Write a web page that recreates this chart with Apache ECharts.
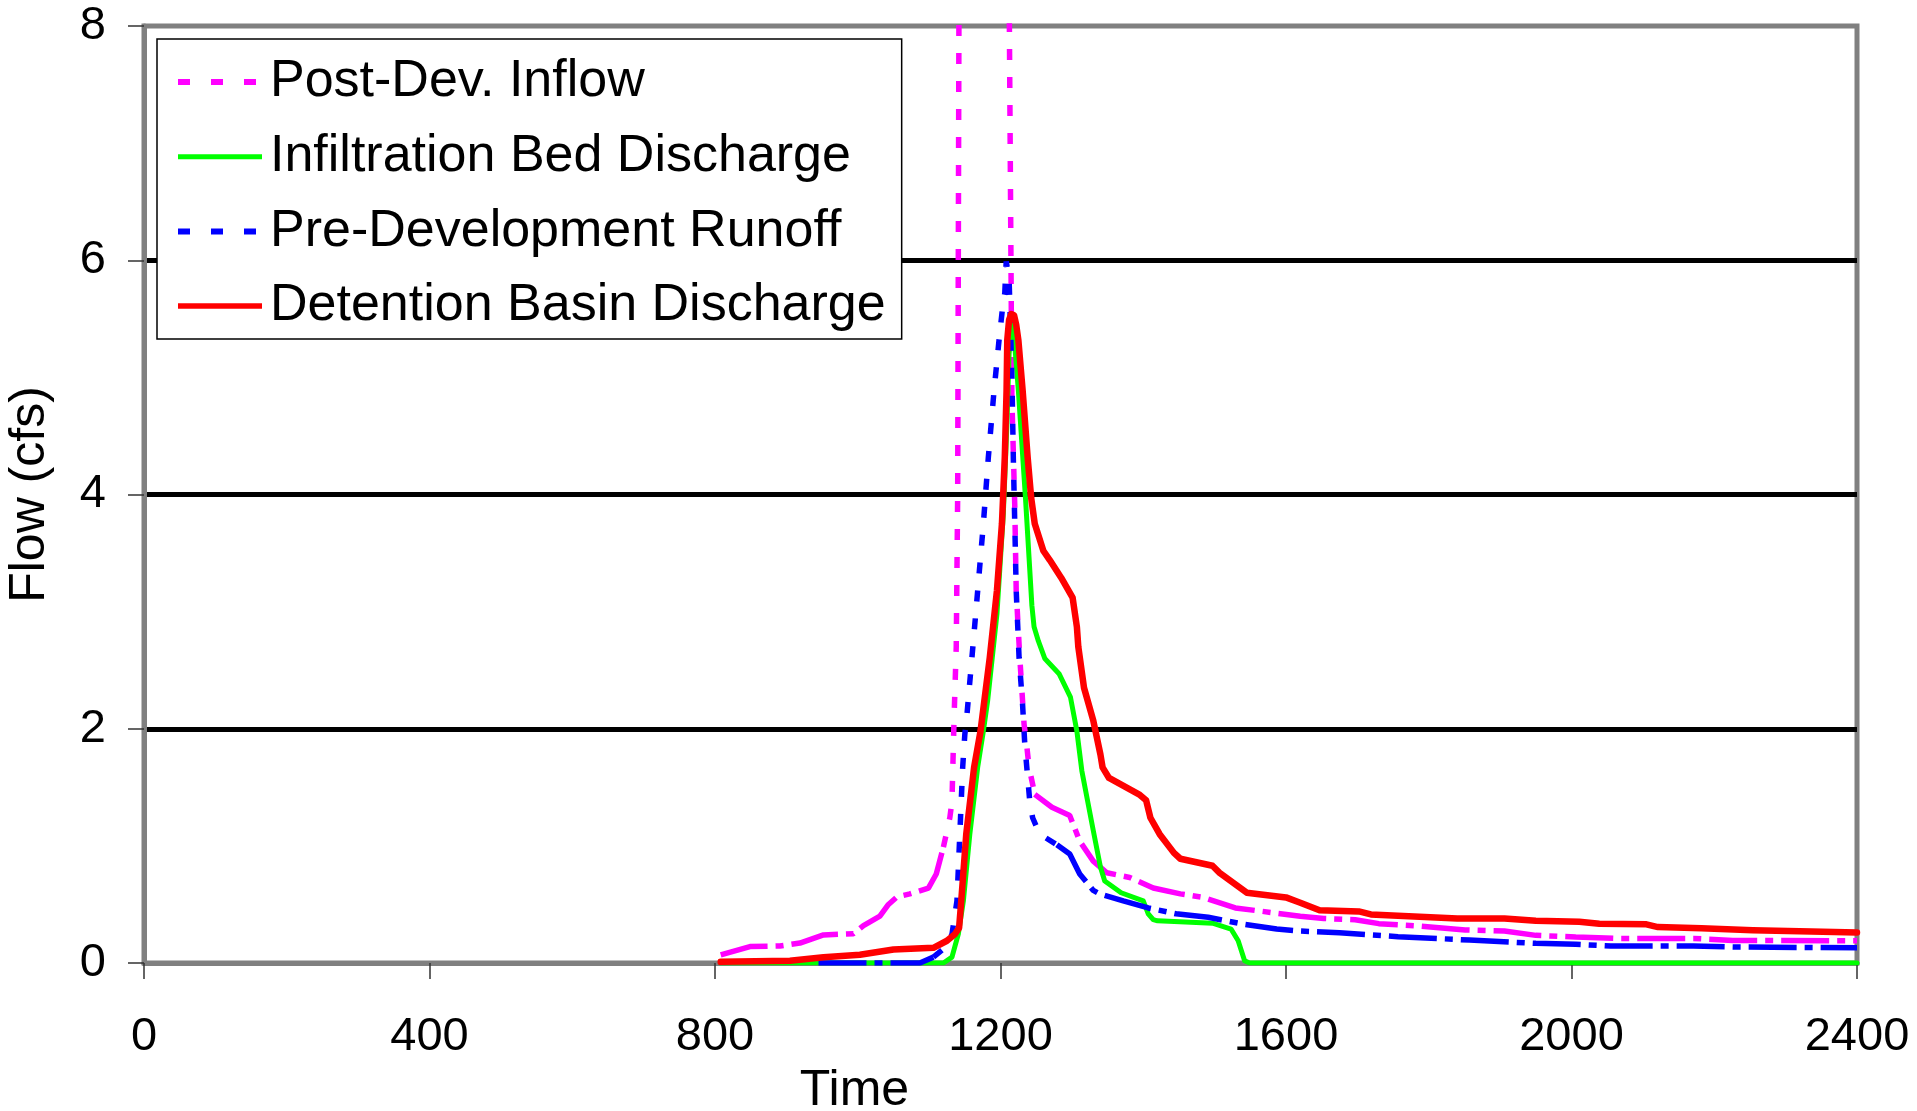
<!DOCTYPE html>
<html>
<head>
<meta charset="utf-8">
<title>Flow (cfs) vs Time</title>
<script src="https://cdn.jsdelivr.net/npm/echarts@6/dist/echarts.min.js"></script>
<style>
  html, body { margin: 0; padding: 0; background: #fff; }
  #chart { width: 1917px; height: 1111px; }
</style>
</head>
<body>
<div id="chart"></div>
<script>
// Axis ticks
const timeTicks = [0, 400, 800, 1200, 1600, 2000, 2400];
const flowTicks = [0, 2, 4, 6, 8];

// Hydrographs: [time, flow (cfs)]
const postDevInflow = [
  [808, 0.07], [849, 0.14], [891, 0.145], [919, 0.17], [952, 0.24], [994, 0.25],
  [1008, 0.32], [1031, 0.40], [1043, 0.50], [1055, 0.565], [1073, 0.59], [1099, 0.64],
  [1110, 0.76], [1120, 0.99], [1129, 1.24], [1132, 1.38], [1135, 2.1], [1138, 2.7],
  [1140, 4.0], [1142, 8.6], [1147, 14.0], [1180, 15.5], [1207, 13.0], [1212, 8.4],
  [1216, 4.8], [1220, 3.9], [1222, 3.18], [1227, 2.61], [1233, 2.04], [1236, 1.9],
  [1240, 1.67], [1248, 1.44], [1272, 1.33], [1297, 1.26], [1311, 1.04], [1330, 0.87],
  [1349, 0.77], [1381, 0.73], [1414, 0.64], [1452, 0.59], [1484, 0.56], [1529, 0.47],
  [1581, 0.43], [1620, 0.40], [1653, 0.38], [1697, 0.37], [1730, 0.336], [1785, 0.316],
  [1851, 0.282], [1906, 0.273], [1950, 0.236], [2006, 0.222], [2061, 0.21],
  [2171, 0.21], [2226, 0.193], [2400, 0.19]
];

const infiltrationBed = [
  [808, 0], [1120, 0], [1132, 0.05], [1141, 0.25], [1148, 0.53], [1157, 1.10],
  [1168, 1.67], [1176, 1.98], [1182, 2.24], [1195, 2.98], [1204, 3.84], [1209, 4.6],
  [1212, 5.2], [1216, 5.47], [1219, 5.35], [1225, 4.89], [1235, 3.97], [1240, 3.46],
  [1244, 3.05], [1247, 2.87], [1253, 2.75], [1262, 2.60], [1282, 2.47], [1298, 2.27],
  [1307, 1.98], [1314, 1.64], [1330, 1.13], [1340, 0.82], [1346, 0.70], [1369, 0.60],
  [1400, 0.53], [1407, 0.42], [1414, 0.37], [1420, 0.36], [1459, 0.35], [1497, 0.34],
  [1523, 0.29], [1533, 0.19], [1542, 0.02], [1549, 0], [2400, 0]
];

const preDevRunoff = [
  [945, 0], [1087, 0], [1106, 0.05], [1122, 0.13], [1132, 0.245], [1139, 0.53],
  [1143, 1.10], [1147, 1.67], [1150, 1.95], [1153, 2.12], [1164, 2.89], [1176, 3.75],
  [1183, 4.32], [1191, 4.89], [1198, 5.32], [1203, 5.6], [1206, 5.72], [1208, 5.99],
  [1212, 5.85], [1216, 5.0], [1218, 4.3], [1220, 3.75], [1222, 3.18], [1226, 2.61],
  [1231, 2.2], [1234, 1.87], [1241, 1.38], [1245, 1.24], [1255, 1.10], [1279, 1.01],
  [1297, 0.93], [1311, 0.76], [1330, 0.62], [1339, 0.59], [1372, 0.53], [1407, 0.47],
  [1446, 0.42], [1491, 0.39], [1542, 0.33], [1587, 0.29], [1620, 0.273], [1675, 0.259],
  [1757, 0.225], [1857, 0.196], [1950, 0.168], [2006, 0.16], [2055, 0.145],
  [2171, 0.145], [2226, 0.137], [2400, 0.13]
];

const detentionBasin = [
  [808, 0.01], [905, 0.02], [952, 0.05], [1003, 0.07], [1050, 0.115], [1106, 0.13],
  [1125, 0.19], [1136, 0.245], [1142, 0.30], [1145, 0.53], [1152, 1.10], [1163, 1.67],
  [1172, 1.98], [1185, 2.61], [1195, 3.18], [1202, 3.75], [1206, 4.32], [1208.5, 4.89],
  [1209.5, 5.32], [1212, 5.49], [1215, 5.54], [1219, 5.53], [1222, 5.45], [1225, 5.32],
  [1231, 4.89], [1238, 4.32], [1243, 3.97], [1248, 3.75], [1260, 3.52], [1269, 3.44],
  [1285, 3.29], [1301, 3.12], [1307, 2.87], [1309, 2.70], [1317, 2.35], [1330, 2.07],
  [1340, 1.78], [1343, 1.67], [1352, 1.58], [1394, 1.44], [1404, 1.39], [1410, 1.24],
  [1423, 1.10], [1443, 0.94], [1452, 0.89], [1497, 0.83], [1507, 0.77], [1545, 0.60],
  [1600, 0.56], [1620, 0.515], [1647, 0.45], [1702, 0.44], [1719, 0.415], [1840, 0.38],
  [1906, 0.38], [1950, 0.36], [2011, 0.353], [2039, 0.336], [2105, 0.33], [2121, 0.307],
  [2182, 0.296], [2254, 0.279], [2336, 0.268], [2400, 0.26]
];

const seriesNames = [
  'Post-Dev. Inflow',
  'Infiltration Bed Discharge',
  'Pre-Development Runoff',
  'Detention Basin Discharge'
];

const FONT = "'Liberation Sans', Arial, Helvetica, sans-serif";
const MAGENTA = '#ff00ff';
const GREEN = '#00ff00';
const BLUE = '#0000ff';
const RED = '#ff0000';
const DOTS = [11, 17];
const DASH_DOT = [48, 8, 8, 8];

// Keep the points whose time lies inside [from, to]
function span(data, from, to) {
  return data.filter(p => p[0] >= from && p[0] <= to);
}

// Dashed hydrograph drawn in three pieces: shallow rise (dash-dot),
// steep spike (dots), recession (dash-dot). Pieces share the series name.
function dashedHydrograph(name, data, color, spikeFrom, spikeTo) {
  const base = {
    name, type: 'line', symbol: 'none', silent: true, clip: true,
    itemStyle: { color },
    lineStyle: { color, width: 5.5, cap: 'butt' }
  };
  return [
    Object.assign({}, base, { data: span(data, -Infinity, spikeFrom),
      lineStyle: Object.assign({}, base.lineStyle, { type: DASH_DOT }) }),
    Object.assign({}, base, { data: span(data, spikeFrom, spikeTo),
      lineStyle: Object.assign({}, base.lineStyle, { type: DOTS }) }),
    Object.assign({}, base, { data: span(data, spikeTo, Infinity),
      lineStyle: Object.assign({}, base.lineStyle, { type: DASH_DOT }) })
  ];
}

function solidHydrograph(name, data, color, width) {
  return {
    name, type: 'line', symbol: 'none', silent: true, clip: true, data,
    itemStyle: { color },
    lineStyle: { color, width, type: 'solid', cap: 'round', join: 'round' }
  };
}

// Legend entry: line icon only, no marker
function legendEntry(name, color, width, type) {
  return {
    name,
    itemStyle: { color, opacity: 0, borderWidth: 0 },
    lineStyle: { color, width, type, cap: 'butt', opacity: 1 }
  };
}

const chart = echarts.init(document.getElementById('chart'), null, { renderer: 'canvas' });

chart.setOption({
  animation: false,
  backgroundColor: '#ffffff',
  textStyle: { fontFamily: FONT, color: '#000' },
  grid: {
    left: 144, right: 60, top: 26, bottom: 148,
    containLabel: false,
    outerBoundsMode: 'none',
    show: true,
    backgroundColor: '#ffffff',
    borderColor: '#808080',
    borderWidth: 5
  },
  legend: {
    orient: 'vertical',
    left: 157, top: 39,
    padding: [17, 16, 7, 18],
    itemGap: 22.7,
    itemWidth: 84,
    itemHeight: 14,
    backgroundColor: '#ffffff',
    borderColor: '#000000',
    borderWidth: 1.5,
    borderRadius: 0,
    selectedMode: false,
    textStyle: { fontFamily: FONT, fontSize: 52, color: '#000', padding: [0, 0, 0, 3] },
    data: [
      legendEntry(seriesNames[0], MAGENTA, 6, [12, 21]),
      legendEntry(seriesNames[1], GREEN, 5, 'solid'),
      legendEntry(seriesNames[2], BLUE, 6, [12, 21]),
      legendEntry(seriesNames[3], RED, 5.5, 'solid')
    ]
  },
  xAxis: {
    type: 'value',
    min: timeTicks[0],
    max: timeTicks[timeTicks.length - 1],
    interval: timeTicks[1] - timeTicks[0],
    name: 'Time',
    nameLocation: 'middle',
    nameGap: 101,
    nameTextStyle: { fontFamily: FONT, fontSize: 50, color: '#000', padding: [0, 292, 0, 0] },
    axisLine: { show: true, onZero: false, lineStyle: { color: '#808080', width: 5 } },
    axisTick: { show: true, inside: false, length: 16, lineStyle: { color: '#333', width: 1.5 } },
    axisLabel: {
      show: true, margin: 51, fontFamily: FONT, fontSize: 47, color: '#000',
      showMinLabel: true, showMaxLabel: true, hideOverlap: false,
      formatter: v => String(v)
    },
    splitLine: { show: false }
  },
  yAxis: {
    type: 'value',
    min: flowTicks[0],
    max: flowTicks[flowTicks.length - 1],
    interval: flowTicks[1] - flowTicks[0],
    name: 'Flow (cfs)',
    nameLocation: 'middle',
    nameGap: 89,
    nameRotate: 90,
    nameTextStyle: { fontFamily: FONT, fontSize: 50, color: '#000' },
    axisLine: { show: true, onZero: false, lineStyle: { color: '#808080', width: 5 } },
    axisTick: { show: true, inside: false, length: 16, lineStyle: { color: '#333', width: 1.5 } },
    axisLabel: {
      show: true, margin: 38, fontFamily: FONT, fontSize: 47, color: '#000',
      showMinLabel: true, showMaxLabel: true, hideOverlap: false,
      formatter: v => String(v)
    },
    splitLine: {
      show: true,
      showMinLine: false,
      showMaxLine: false,
      lineStyle: { color: '#000000', width: 5, type: 'solid' }
    }
  },
  series: [
    ...dashedHydrograph(seriesNames[0], postDevInflow, MAGENTA, 1120, 1248),
    solidHydrograph(seriesNames[1], infiltrationBed, GREEN, 5),
    ...dashedHydrograph(seriesNames[2], preDevRunoff, BLUE, 1106, 1279),
    solidHydrograph(seriesNames[3], detentionBasin, RED, 6.5)
  ]
});
</script>
</body>
</html>
